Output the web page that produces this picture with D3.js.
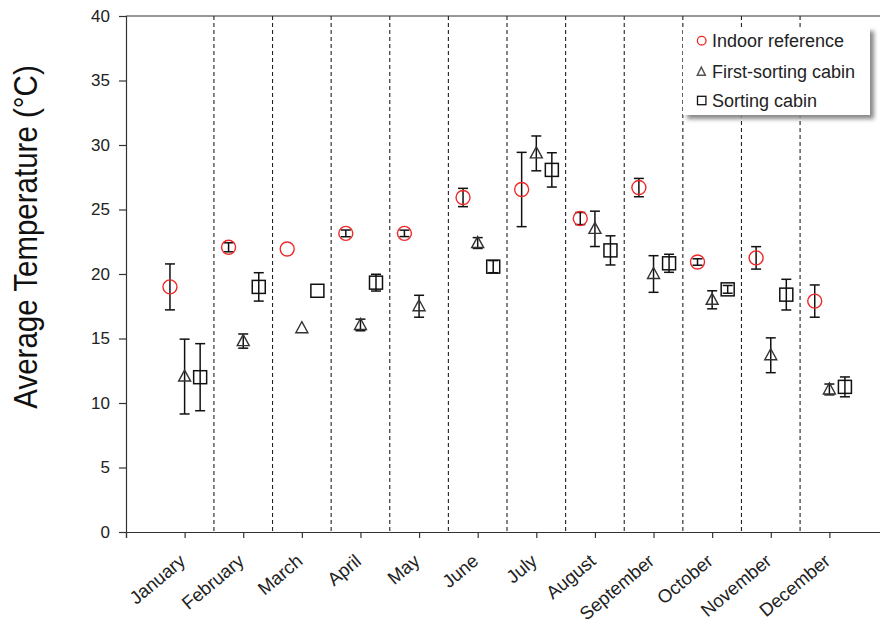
<!DOCTYPE html>
<html>
<head>
<meta charset="utf-8">
<script src="https://cdn.jsdelivr.net/npm/d3@7"></script>
<style>
  html, body { margin: 0; padding: 0; background: #fff; }
  svg { display: block; font-family: "Liberation Sans", Arial, sans-serif; }
</style>
</head>
<body>
<svg id="chart" width="880" height="630"></svg>
<script>
// ---- data ----
const months = ["January","February","March","April","May","June","July","August","September","October","November","December"];
const indoor      = [19.0, 22.07, 21.94, 23.15, 23.15, 25.93, 26.55, 24.3, 26.7, 20.93, 21.25, 17.9];
const indoorErr   = [1.78, 0.35, 0, 0.26, 0.25, 0.71, 2.88, 0.47, 0.71, 0.25, 0.87, 1.25];
const firstCabin    = [12.05, 14.8, 15.8, 16.05, 17.5, 22.4, 29.35, 23.5, 20.0, 18.0, 13.7, 11.05];
const firstCabinErr = [2.9, 0.55, 0, 0.45, 0.85, 0.42, 1.35, 1.37, 1.42, 0.7, 1.35, 0.42];
const sortingCabin    = [12.0, 19.0, 18.7, 19.33, null, 20.57, 28.07, 21.83, 20.83, 18.81, 18.4, 11.25];
const sortingCabinErr = [2.6, 1.1, 0, 0.65, null, 0.47, 1.33, 1.13, 0.7, 0.3, 1.19, 0.77];
const yTicks = [0, 5, 10, 15, 20, 25, 30, 35, 40];
const seriesNames = ["Indoor reference", "First-sorting cabin", "Sorting cabin"];

// ---- layout ----
const svg = d3.select("#chart");
const x = d3.scaleLinear().domain([0, 13]).range([126, 888]);
const y = d3.scaleLinear().domain([0, 40]).range([532, 16]);
const axisColor = "#333";

// defs: legend shadow blur
const defs = svg.append("defs");
const f = defs.append("filter").attr("id", "blur").attr("x", "-10%").attr("y", "-10%").attr("width", "130%").attr("height", "130%");
f.append("feGaussianBlur").attr("stdDeviation", 2);

// month separators (dashed)
const seps = d3.range(1, 12).map(i => i + 0.5);
svg.append("g").selectAll("line").data(seps).join("line")
  .attr("x1", d => x(d)).attr("x2", d => x(d))
  .attr("y1", y(40)).attr("y2", y(0))
  .attr("stroke", "#222").attr("stroke-width", 1.1).attr("stroke-dasharray", "4,3");

// top frame line
svg.append("line").attr("x1", x(0)).attr("x2", x(13)).attr("y1", y(40)).attr("y2", y(40))
  .attr("stroke", axisColor).attr("stroke-width", 1.2);

// y axis
const yAxis = d3.axisLeft(y).tickValues(yTicks).tickSize(7).tickPadding(9).tickFormat(d3.format("d"));
const gy = svg.append("g").attr("transform", `translate(${x(0)},0)`).call(yAxis);
gy.select(".domain").attr("stroke", axisColor).attr("stroke-width", 1.2);
gy.selectAll(".tick line").attr("stroke", axisColor).attr("stroke-width", 1.2);
gy.selectAll(".tick text").attr("font-size", 17).attr("fill", "#222")
  .attr("font-family", "Liberation Sans, Arial, sans-serif");

// x axis
const xAxis = d3.axisBottom(x).tickValues(d3.range(0, 13)).tickSize(6).tickFormat("");
const gx = svg.append("g").attr("transform", `translate(0,${y(0)})`).call(xAxis);
gx.select(".domain").attr("stroke", axisColor).attr("stroke-width", 1.2);
gx.selectAll(".tick line").attr("stroke", axisColor).attr("stroke-width", 1.2);

// x labels (rotated)
svg.append("g").selectAll("text").data(months).join("text")
  .attr("transform", (d, i) => `translate(${x(i + 1) + 2},${y(0) + 31}) rotate(-40)`)
  .attr("text-anchor", "end")
  .attr("font-size", 18.5).attr("fill", "#222")
  .text(d => d);

// y title
svg.append("text")
  .attr("transform", `translate(37,237) scale(1.12,1) rotate(-90)`)
  .attr("text-anchor", "middle")
  .attr("font-size", 29.5).attr("fill", "#111")
  .text("Average Temperature (°C)");

// ---- series ----
const offsets = [-0.25, 0, 0.265];
const series = [
  { vals: indoor, errs: indoorErr },
  { vals: firstCabin, errs: firstCabinErr },
  { vals: sortingCabin, errs: sortingCabinErr }
];
const capW = 5;

series.forEach((s, si) => {
  const pts = s.vals.map((v, i) => ({ m: i + 1, v: v, e: s.errs[i] })).filter(p => p.v != null);
  const g = svg.append("g");
  // error bars
  const eb = pts.filter(p => p.e > 0);
  const ge = g.append("g").attr("stroke", "#111").attr("stroke-width", 1.5).attr("fill", "none");
  eb.forEach(p => {
    const cx = x(p.m + offsets[si]);
    ge.append("line").attr("x1", cx).attr("x2", cx).attr("y1", y(p.v + p.e)).attr("y2", y(p.v - p.e));
    ge.append("line").attr("x1", cx - capW).attr("x2", cx + capW).attr("y1", y(p.v + p.e)).attr("y2", y(p.v + p.e));
    ge.append("line").attr("x1", cx - capW).attr("x2", cx + capW).attr("y1", y(p.v - p.e)).attr("y2", y(p.v - p.e));
  });
  // markers
  if (si === 0) {
    g.selectAll("circle").data(pts).join("circle")
      .attr("cx", p => x(p.m + offsets[si])).attr("cy", p => y(p.v)).attr("r", 7)
      .attr("fill", "none").attr("stroke", "#f02828").attr("stroke-width", 1.4);
  } else if (si === 1) {
    g.selectAll("path").data(pts).join("path")
      .attr("transform", p => `translate(${x(p.m + offsets[si])},${y(p.v)})`)
      .attr("d", "M0,-6.5L6,4.5L-6,4.5Z")
      .attr("fill", "none").attr("stroke", "#333").attr("stroke-width", 1.4);
  } else {
    g.selectAll("rect").data(pts).join("rect")
      .attr("x", p => x(p.m + offsets[si]) - 6.5).attr("y", p => y(p.v) - 6.5)
      .attr("width", 13).attr("height", 13)
      .attr("fill", "none").attr("stroke", "#111").attr("stroke-width", 1.5);
  }
});

// ---- legend ----
const lg = svg.append("g");
lg.append("rect").attr("x", 687).attr("y", 31).attr("width", 187).attr("height", 88)
  .attr("fill", "#888").attr("filter", "url(#blur)");
lg.append("rect").attr("x", 683).attr("y", 27).attr("width", 187).attr("height", 88)
  .attr("fill", "#fff");
const ly = [40.7, 71.5, 100.5];
lg.append("circle").attr("cx", 701.7).attr("cy", ly[0]).attr("r", 4.3)
  .attr("fill", "none").attr("stroke", "#f02828").attr("stroke-width", 1.3);
lg.append("path").attr("transform", `translate(701.3,${ly[1]})`).attr("d", "M0,-4.3L4,3.7L-4,3.7Z")
  .attr("fill", "none").attr("stroke", "#555").attr("stroke-width", 1.5);
lg.append("rect").attr("x", 697.5).attr("y", ly[2] - 4.2).attr("width", 8.4).attr("height", 8.4)
  .attr("fill", "none").attr("stroke", "#111").attr("stroke-width", 1.3);
lg.selectAll("text").data(seriesNames).join("text")
  .attr("x", 712).attr("y", (d, i) => ly[i] + 6.3)
  .attr("font-size", 18).attr("fill", "#222")
  .text(d => d);
</script>
</body>
</html>
